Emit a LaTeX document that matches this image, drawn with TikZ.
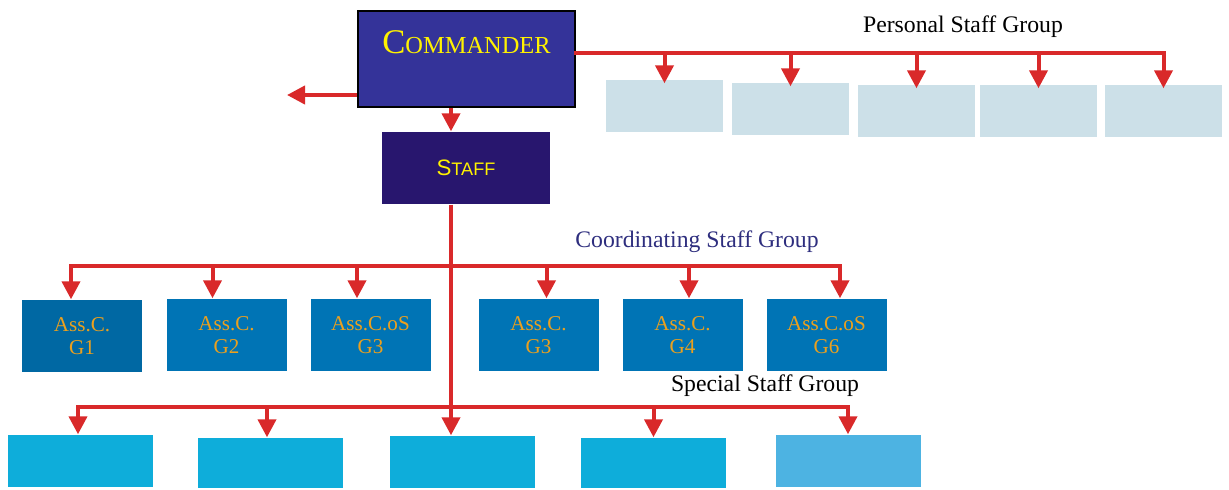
\documentclass[tikz,border=0pt]{standalone}
\usepackage{fontspec}
\setmainfont{Liberation Serif}
\setsansfont{Liberation Sans}
\usetikzlibrary{arrows.meta}
\usetikzlibrary{calc}
\definecolor{busred}{RGB}{217,41,42}
\definecolor{cmdblue}{RGB}{52,51,153}
\definecolor{staffblue}{RGB}{40,22,110}
\definecolor{persblue}{RGB}{204,224,232}
\definecolor{coordblue}{RGB}{0,116,181}
\definecolor{coordtext}{RGB}{235,160,30}
\definecolor{specblue}{RGB}{14,173,218}
\definecolor{speclight}{RGB}{77,179,226}
\definecolor{grouptext}{RGB}{46,46,126}
\tikzset{
every picture/.style={line width=0.8pt, >={Triangle[width=0.36cm,length=0.36cm]}},
%%%%%%%%%%  Node styles
cmdbox/.style={draw=black, line width=1.1pt, fill=cmdblue, text=yellow,
               minimum width=4.34cm, minimum height=1.92cm, inner sep=0pt,
               text height=0.45cm, text depth=0.69cm},
staffbox/.style={fill=staffblue, text=yellow, font=\sffamily,
                 minimum width=3.36cm, minimum height=1.44cm, inner sep=0pt},
persbox/.style={fill=persblue, minimum width=2.34cm, minimum height=1.04cm},
coordbox/.style={fill=coordblue, text=coordtext, align=center,
                 font=\fontsize{12}{13.2}\selectfont,
                 minimum width=2.40cm, minimum height=1.44cm, inner sep=0pt},
specbox/.style={fill=specblue, minimum width=2.90cm, minimum height=1.04cm},
grouplabel/.style={font=\fontsize{13.5}{15}\selectfont, inner sep=0pt},
%%%% red lines
bus/.style={draw=busred, line width=0.08cm, line cap=rect},
drop/.style={draw=busred, line width=0.08cm, ->}
}

\begin{document}
\begin{tikzpicture}
\useasboundingbox (0,0) rectangle (24.58,-9.78);
%% commander and staff
\node[cmdbox] (cmd) at (9.33,-1.18)
	{{\fontsize{19.7}{20}\selectfont C}{\fontsize{13.9}{14}\selectfont OMMANDER}};
\node[staffbox] (staff) at (9.32,-3.36)
	{{\fontsize{12.7}{13}\selectfont S}{\fontsize{10.3}{11}\selectfont TAFF}};
\coordinate (west) at (5.74,-1.90);
\coordinate (trunk) at (9.02,-5.32);
\draw[drop] (cmd.west |- west) -- (west);
\draw[drop] (cmd.south -| trunk) -- (staff.north -| trunk);
%%%%%%%%%%%%%%%%%%%%%%%%%%%%%%%%%%%%%%%%%%%%%%%%%%%%
%% personal staff group
\node[grouplabel] (plabel) at (19.26,-0.54) {Personal Staff Group};
\node[persbox] (p1) at (13.29,-2.12) {};
\node[persbox] (p2) at (15.81,-2.18) {};
\node[persbox] (p3) at (18.33,-2.22) {};
\node[persbox] (p4) at (20.77,-2.22) {};
\node[persbox] (p5) at (23.27,-2.22) {};
\coordinate (pbus) at (0,-1.06);
\draw[bus] (cmd.east |- pbus) -- (pbus -| p5.north);
\foreach \n in {p1,p2,p3,p4,p5}
	\draw[drop] (pbus -| \n.north) -- ([yshift=-0.08cm]\n.north);
%%%%%%%%%%%%%%%%%%%%%%%%%%%%%%%%%%%%%%%%%%%%%%%%%%%%
%% coordinating staff group
\node[grouplabel, text=grouptext] (clabel) at (13.94,-4.84) {Coordinating Staff Group};
\node[coordbox, fill=coordblue!90!black] (c1) at (1.64,-6.72) {Ass.C.\\G1};
\node[coordbox] (c2) at (4.53,-6.70) {Ass.C.\\G2};
\node[coordbox] (c3) at (7.41,-6.70) {Ass.C.oS\\G3};
\node[coordbox] (c4) at (10.77,-6.70) {Ass.C.\\G3};
\node[coordbox] (c5) at (13.65,-6.70) {Ass.C.\\G4};
\node[coordbox] (c6) at (16.53,-6.70) {Ass.C.oS\\G6};
\foreach \n/\dx in {c1/-0.22,c2/-0.28,c3/-0.27,c4/0.16,c5/0.13,c6/0.27}
	\path ([xshift=\dx cm]\n.north) coordinate (d\n);
\draw[bus] (trunk -| dc1) -- (trunk -| dc6);
\foreach \n in {c1,c2,c3,c4,c5,c6}
	\draw[drop] (trunk -| d\n) -- (d\n);
%%%%%%%%%%%%%%%%%%%%%%%%%%%%%%%%%%%%%%%%%%%%%%%%%%%%
%% special staff group
\node[grouplabel] (slabel) at (15.30,-7.72) {Special Staff Group};
\node[specbox] (s1) at (1.61,-9.22) {};
\node[specbox, minimum height=1.0cm] (s2) at (5.41,-9.26) {};
\node[specbox] (s3) at (9.24,-9.24) {};
\node[specbox, minimum height=1.0cm] (s4) at (13.07,-9.26) {};
\node[specbox, fill=speclight] (s5) at (16.96,-9.22) {};
\coordinate (sbus) at (0,-8.14);
\foreach \n/\dx in {s1/-0.05,s2/-0.07,s4/0,s5/0}
	\path ([xshift=\dx cm]\n.north) coordinate (d\n);
\path (s3.north -| trunk) coordinate (ds3);
\draw[bus] (sbus -| ds1) -- (sbus -| ds5);
\foreach \n in {s1,s2,s4,s5}
	\draw[drop] (sbus -| d\n) -- (d\n);
\draw[drop] (staff.south -| trunk) -- (ds3);
\end{tikzpicture}
\end{document}
